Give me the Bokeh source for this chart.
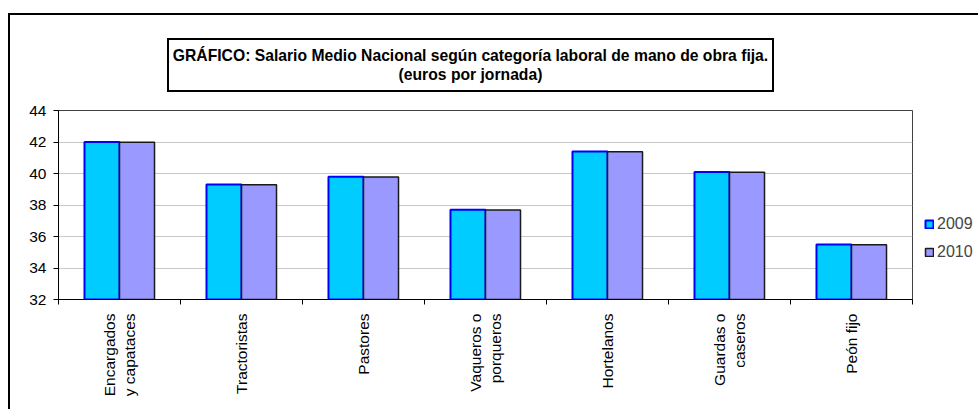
import math
from bokeh.plotting import figure
from bokeh.layouts import column
from bokeh.models import FixedTicker, Legend, LegendItem, Range1d, ColumnDataSource, Div
from bokeh.embed import file_html
from bokeh.resources import INLINE

categories = ["Encargados\ny capataces", "Tractoristas", "Pastores", "Vaqueros o\nporqueros",
              "Hortelanos", "Guardas o\ncaseros", "Peón fijo"]
series_names = ["2009", "2010"]
v2009 = [42.0, 39.3, 39.8, 37.7, 41.4, 40.1, 35.5]
v2010 = [41.98, 39.28, 39.78, 37.68, 41.38, 40.08, 35.48]
y_ticks = [32, 34, 36, 38, 40, 42, 44]
title_line1 = "GRÁFICO: Salario Medio Nacional según categoría laboral de mano de obra fija."
title_line2 = "(euros por jornada)"

FONT = "Liberation Sans"
FS = "16px"
n = len(categories)
centers = [i + 0.5 for i in range(n)]
bw = 0.287

p = figure(frame_width=854, frame_height=189, output_backend="svg", toolbar_location=None,
           x_range=Range1d(0, n), y_range=Range1d(y_ticks[0], y_ticks[-1]),
           min_border_left=48, min_border_right=10, min_border_top=18, min_border_bottom=110)
p.background_fill_color = "white"
p.border_fill_color = "white"
p.outline_line_color = "#404040"
p.outline_line_width = 1

src = ColumnDataSource(dict(x1=[c - bw / 2 for c in centers], x2=[c + bw / 2 for c in centers],
                            y1=v2009, y2=v2010))
r1 = p.vbar(x="x1", top="y1", bottom=y_ticks[0], width=bw, source=src,
            fill_color="#00CCFF", line_color="#0000FF", line_width=2)
r2 = p.vbar(x="x2", top="y2", bottom=y_ticks[0], width=bw, source=src,
            fill_color="#9999FF", line_color="#1a1a1a", line_width=1.5)

# axes
p.yaxis.ticker = FixedTicker(ticks=y_ticks)
p.yaxis.axis_line_color = "black"
p.yaxis.major_tick_line_color = "black"
p.yaxis.major_tick_out = 5
p.yaxis.major_tick_in = 0
p.yaxis.minor_tick_line_color = None
p.yaxis.major_label_text_font = FONT
p.yaxis.major_label_text_font_size = "15.5px"
p.yaxis.major_label_text_color = "black"
p.yaxis.major_label_standoff = 7

p.xaxis.ticker = FixedTicker(ticks=centers, minor_ticks=list(range(n + 1)))
p.xaxis.major_label_overrides = {c: lab for c, lab in zip(centers, categories)}
p.xaxis.major_label_orientation = math.pi / 2
p.xaxis.major_tick_line_color = None
p.xaxis.major_tick_out = 0
p.xaxis.major_tick_in = 0
p.xaxis.minor_tick_line_color = "black"
p.xaxis.minor_tick_out = 5
p.xaxis.minor_tick_in = 0
p.xaxis.axis_line_color = "black"
p.xaxis.major_label_text_font = FONT
p.xaxis.major_label_text_font_size = "15.5px"
p.xaxis.major_label_text_color = "black"
p.xaxis.major_label_standoff = 9

p.xgrid.grid_line_color = None
p.ygrid.ticker = FixedTicker(ticks=y_ticks)
p.ygrid.grid_line_color = "#c8c8c8"
p.ygrid.grid_line_width = 1

# legend
legend = Legend(items=[LegendItem(label=series_names[0], renderers=[r1]),
                       LegendItem(label=series_names[1], renderers=[r2])],
                location=(12, 38))
legend.glyph_width = 10
legend.glyph_height = 10
legend.label_height = 14
legend.spacing = 10
legend.padding = 2
legend.margin = 0
legend.label_standoff = 3
legend.label_text_font = FONT
legend.label_text_font_size = FS
legend.border_line_color = None
legend.background_fill_alpha = 0
p.add_layout(legend, "right")

title_div = Div(text=f"{title_line1}<br>{title_line2}", width=607, height=54,
                margin=(23, 0, 0, 157),
                styles={"border": "2.5px solid black", "box-sizing": "border-box",
                        "text-align": "center", "font-family": FONT, "font-weight": "bold",
                        "font-size": "15.7px", "line-height": "19px", "padding-top": "6px",
                        "background": "white", "color": "black"})

root = column(title_div, p, spacing=0, margin=(13, 0, 0, 8),
              styles={"border-top": "2px solid black", "border-left": "2px solid black",
                      "background": "white"})

open("out.html", "w").write(file_html(root, INLINE))
